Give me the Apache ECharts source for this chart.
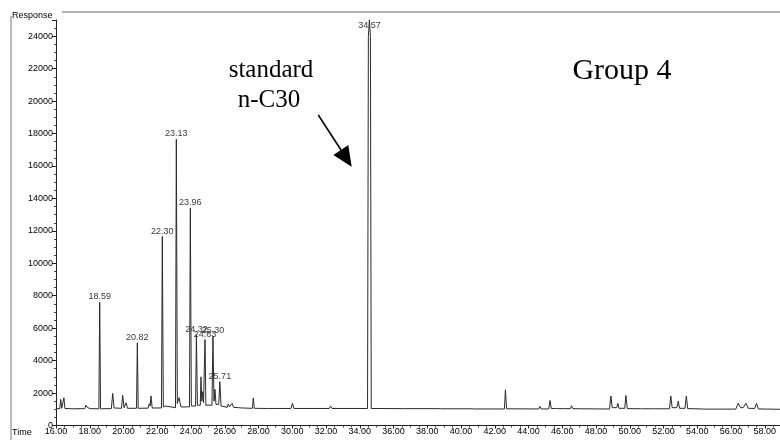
<!DOCTYPE html>
<html>
<head>
<meta charset="utf-8">
<script src="https://cdn.jsdelivr.net/npm/echarts@6/dist/echarts.min.js"></script>
<style>
html,body{margin:0;padding:0;background:#fff;}
#chart{width:780px;height:440px;}
</style>
</head>
<body>
<div id="chart"></div>
<script>
// ---- Data ----
var traceTime = [
  16.00,16.22,16.28,16.34,16.41,16.47,16.53,17.00,17.70,17.78,17.85,17.93,18.02,
  18.54,18.59,18.64,19.28,19.36,19.44,19.88,19.95,20.03,20.08,20.15,20.24,
  20.77,20.82,20.87,21.46,21.53,21.58,21.63,21.70,22.25,22.30,22.36,22.48,22.58,
  23.08,23.13,23.19,23.29,23.40,23.64,23.70,23.76,23.91,23.96,24.02,
  24.27,24.32,24.38,24.55,24.59,24.64,24.69,24.74,24.79,24.83,24.88,
  25.24,25.30,25.36,25.42,25.48,25.64,25.71,25.78,26.14,26.21,26.28,26.37,26.44,26.52,
  26.83,26.90,26.97,27.13,27.20,27.27,27.64,27.69,27.75,28.45,28.52,28.60,28.80,28.86,28.93,
  29.92,30.01,30.10,32.19,32.27,32.35,34.46,34.51,34.57,34.63,34.68,
  36.57,36.65,36.73,38.63,38.71,38.79,40.66,40.73,40.80,42.57,42.63,42.70,
  44.60,44.67,44.74,45.20,45.27,45.35,45.60,45.66,45.73,46.08,46.15,46.22,
  46.48,46.55,46.62,47.09,47.16,47.23,48.33,48.40,48.47,48.80,48.88,48.96,
  49.22,49.29,49.36,49.70,49.77,49.85,50.63,50.70,50.77,51.36,51.43,51.50,
  52.35,52.43,52.51,52.79,52.87,52.95,53.27,53.35,53.43,54.26,54.33,54.40,
  56.28,56.42,56.56,56.72,56.88,57.02,57.40,57.51,57.62,58.90
];
var traceResp = [
  1040,1040,1610,1060,1060,1710,1050,1030,1040,1260,1120,1150,1040,
  1030,7600,1030,1040,1980,1080,1060,1860,1100,1100,1400,1060,
  1060,5100,1060,1070,1350,1200,1820,1080,1080,11650,1150,1200,1100,
  1100,17650,1350,1720,1150,1140,1250,1150,1150,13400,1200,
  1200,5600,1250,1250,3000,1500,2080,1400,1300,5300,1250,
  1250,5500,1500,2230,1300,1300,2700,1200,1120,1330,1150,1150,1370,1120,
  1100,1160,1080,1080,1120,1070,1060,1700,1060,1050,1100,1050,1050,1080,1050,
  1050,1370,1050,1050,1200,1050,1050,24000,25000,24000,1050,
  1040,1110,1040,1040,1120,1030,1030,1070,1020,1020,2200,1030,
  1020,1180,1020,1020,1540,1050,1050,1150,1040,1040,1150,1040,
  1040,1220,1040,1030,1130,1030,1020,1060,1020,1020,1820,1100,
  1100,1370,1060,1060,1850,1040,1030,1110,1030,1030,1130,1030,
  1030,1820,1100,1100,1500,1060,1060,1820,1040,1020,1050,1010,
  1010,1370,1100,1100,1370,1060,1050,1370,1020,1000
];
// labelled peaks: position of the apex and printed retention time
var peakTime = [18.59, 20.82, 22.30, 23.13, 23.96, 24.32, 24.83, 25.30, 25.71, 34.57];
var peakResp = [7600, 5100, 11650, 17650, 13400, 5600, 5300, 5500, 2700, 25000];
var peakText = ["18.59","20.82","22.30","23.13","23.96","24.32","24.63","25.30","25.71","34.57"];

var xMin = 16, xMax = 58.9, xStep = 2;
var yMin = 0, yMax = 25000, yStep = 2000;

// ---- Build chart ----
var chart = echarts.init(document.getElementById('chart'), null, {renderer: 'canvas'});
var lineData = traceTime.map(function (t, i) { return [t, traceResp[i]]; });
var labelData = peakTime.map(function (t, i) {
  var item = {value: [t, peakResp[i]], name: peakText[i]};
  if (peakText[i] === "34.57") { item.label = {offset: [0, 11]}; }
  return item;
});
var sans = 'Liberation Sans, Arial, sans-serif';
var serif = 'Liberation Serif, Times New Roman, serif';

chart.setOption({
  animation: false,
  backgroundColor: '#fff',
  grid: {left: 56, right: 0, top: 20, bottom: 14.5, containLabel: false},
  xAxis: {
    type: 'value', min: xMin, max: xMax, interval: xStep,
    axisLine: {show: true, onZero: false, lineStyle: {color: '#222', width: 1}},
    axisTick: {show: true, length: 3, lineStyle: {color: '#222'}},
    minorTick: {show: true, splitNumber: 4, length: 2, lineStyle: {color: '#444'}},
    splitLine: {show: false},
    axisLabel: {
      fontFamily: sans, fontSize: 9, color: '#000', margin: 2,
      showMaxLabel: false,
      formatter: function (v) { return v.toFixed(2); }
    }
  },
  yAxis: {
    type: 'value', min: yMin, max: yMax, interval: yStep,
    axisLine: {show: true, lineStyle: {color: '#222', width: 1}},
    axisTick: {show: true, length: 4, lineStyle: {color: '#222'}},
    minorTick: {show: true, splitNumber: 4, length: 2, lineStyle: {color: '#444'}},
    splitLine: {show: false},
    axisLabel: {
      fontFamily: sans, fontSize: 9, color: '#000', margin: 3,
      showMaxLabel: false,
      formatter: function (v) { return String(Math.round(v)); }
    }
  },
  series: [
    {
      type: 'line', data: lineData, showSymbol: false, symbol: 'none',
      lineStyle: {color: '#2a2a2a', width: 1}, clip: true, silent: true
    },
    {
      type: 'scatter', data: labelData, symbolSize: 0, silent: true,
      label: {
        show: true, position: 'top', distance: 1,
        fontFamily: sans, fontSize: 9, color: '#000',
        formatter: function (p) { return p.name; }
      }
    }
  ],
  graphic: [
    {type: 'line', shape: {x1: 62, y1: 12, x2: 780, y2: 12}, style: {stroke: '#999', lineWidth: 1.5}, silent: true},
    {type: 'line', shape: {x1: 11, y1: 16, x2: 11, y2: 440}, style: {stroke: '#bbb', lineWidth: 2}, silent: true},
    {type: 'text', left: 12, top: 11, style: {text: 'Response', font: '9px ' + sans, fill: '#000'}},
    {type: 'text', left: 12, top: 428, style: {text: 'Time', font: '9px ' + sans, fill: '#000'}},
    {type: 'text', x: 271, y: 70, style: {text: 'standard', font: '25px ' + serif, fill: '#000', align: 'center', verticalAlign: 'middle'}},
    {type: 'text', x: 269, y: 100.5, style: {text: 'n-C30', font: '25px ' + serif, fill: '#000', align: 'center', verticalAlign: 'middle'}},
    {type: 'text', x: 622, y: 71.5, style: {text: 'Group 4', font: '30px ' + serif, fill: '#000', align: 'center', verticalAlign: 'middle'}},
    {type: 'line', shape: {x1: 318.3, y1: 115, x2: 341, y2: 150}, style: {stroke: '#000', lineWidth: 1.6}, silent: true},
    {type: 'polygon', shape: {points: [[351.7, 166.7], [333.3, 154.9], [348.3, 145.1]]}, style: {fill: '#000'}, silent: true}
  ]
});
</script>
</body>
</html>
